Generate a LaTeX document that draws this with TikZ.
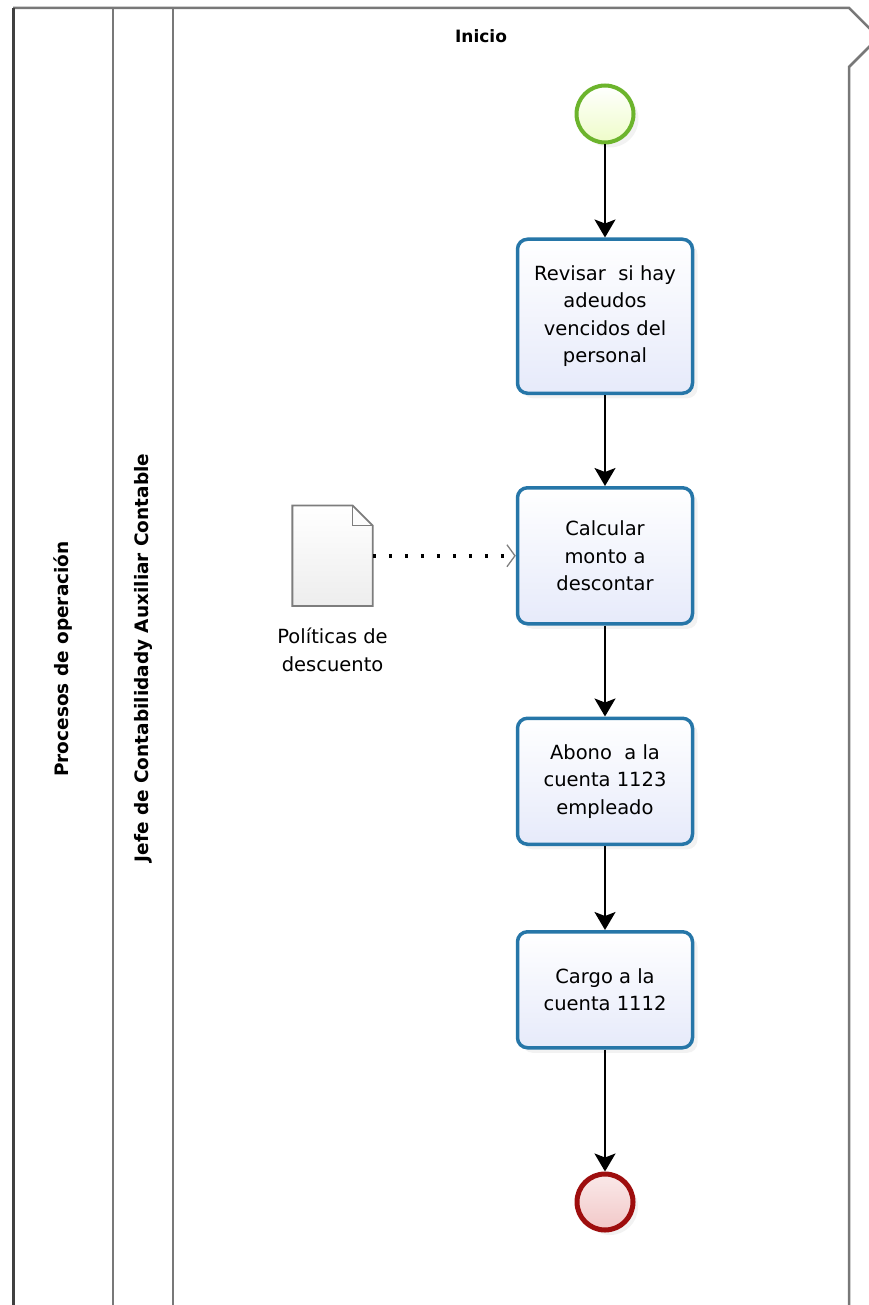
\documentclass[tikz,border=0pt]{standalone}
\usepackage{fontspec}
\setmainfont{DejaVu Sans}
\usetikzlibrary{arrows.meta,positioning,shadows}

\definecolor{taskline}{RGB}{38,118,168}
\definecolor{taskfill}{RGB}{230,234,250}
\definecolor{startline}{RGB}{108,180,44}
\definecolor{startfill}{RGB}{238,252,200}
\definecolor{endline}{RGB}{158,14,14}
\definecolor{endfill}{RGB}{242,200,200}
\definecolor{poolline}{RGB}{120,120,120}
\definecolor{docline}{RGB}{125,125,125}

\begin{document}
\begin{tikzpicture}[
  x=1pt, y=-1pt,
  node distance=90pt,
  task/.style={draw=taskline, line width=3.5pt, rounded corners=10pt, minimum width=175pt, align=center, top color=white, bottom color=taskfill, font=\fontsize{19.5}{27.5}\selectfont, drop shadow={opacity=0.1, shadow xshift=5pt, shadow yshift=-5pt}},
  startev/.style={circle, draw=startline, line width=4pt, minimum size=57pt, inner sep=0pt, top color=white, bottom color=startfill, drop shadow={opacity=0.1, shadow xshift=5pt, shadow yshift=-5pt}},
  endev/.style={circle, draw=endline, line width=5pt, minimum size=56pt, inner sep=0pt, top color=white!60!endfill, bottom color=endfill, drop shadow={opacity=0.1, shadow xshift=5pt, shadow yshift=-5pt}},
  docbox/.style={minimum width=80pt, minimum height=100pt, inner sep=0pt},
  arr/.style={-{Stealth[length=18pt, width=21pt, inset=4pt]}, line width=2pt},
  assoc/.style={line width=3.5pt, dash pattern=on 3.5pt off 12.5pt, -{Straight Barb[length=8pt, width=22pt, line width=1.3pt, color=gray]}},
  lane/.style={draw=poolline, line width=2.5pt},
  lanelabel/.style={rotate=90, font=\bfseries\fontsize{18.5}{20}\selectfont}
]
  \useasboundingbox (0,0) rectangle (868,1305);

  % pool and lanes
  \draw[lane] (113,8) -- (113,1310);
  \draw[lane] (173,8) -- (173,1310);
  \draw[lane] (13,8) -- (849,8) -- (870,29);
  \draw[lane] (870,46) -- (849,67) -- (849,1310);
  \draw[lane, draw=black!75, line width=3pt] (13,1310) -- (13,8);
  \node[lanelabel] (pooltitle) at (63,659) {Procesos de operación};
  \node[lanelabel] (lanetitle) at (143,658) {Jefe de Contabilidady Auxiliar Contable};
  \node[font=\bfseries\fontsize{17}{19}\selectfont] (inicio) at (481,36) {Inicio};

  % flow
  \node[startev] (start) at (605,114) {};
  \node[task, minimum height=154pt, below=93pt of start] (revisar) {Revisar\ \ si hay\\adeudos\\vencidos del\\personal};
  \node[task, minimum height=136pt, below=91pt of revisar] (calcular) {Calcular\\monto a\\descontar};
  \node[task, minimum height=126pt, below=91pt of calcular] (abono) {Abono\ \ a la\\cuenta 1123\\empleado};
  \node[task, minimum height=116pt, below=84pt of abono] (cargo) {Cargo a la\\cuenta 1112};
  \node[endev, below=122pt of cargo] (fin) {};

  % data object
  \node[docbox, left=143pt of calcular] (politicas) {};
  \shade[top color=white, bottom color=black!7, draw=docline, line width=1.8pt, line join=miter]
    (politicas.south west) -- (politicas.north west) -- ([xshift=-20pt]politicas.north east)
    -- ([yshift=-20pt]politicas.north east) -- (politicas.south east) -- cycle;
  \draw[docline, line width=1.4pt] ([xshift=-20pt]politicas.north east) -- ([xshift=-20pt,yshift=-20pt]politicas.north east) -- ([yshift=-20pt]politicas.north east);
  \node[below=18pt of politicas, align=center, font=\fontsize{19.5}{28}\selectfont] (politicaslabel) {Políticas de\\descuento};

  \draw[arr] (start) -- (revisar);
  \draw[arr] (revisar) -- (calcular);
  \draw[arr] (calcular) -- (abono);
  \draw[arr] (abono) -- (cargo);
  \draw[arr] (cargo) -- (fin);
  \draw[assoc] (politicas.east) -- (calcular.west);
\end{tikzpicture}
\end{document}
